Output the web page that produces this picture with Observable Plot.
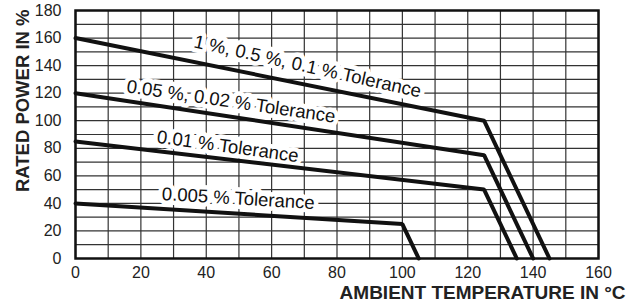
<!DOCTYPE html>
<html>
<head>
<meta charset="utf-8">
<script src="https://cdn.jsdelivr.net/npm/d3@7"></script>
<script src="https://cdn.jsdelivr.net/npm/@observablehq/plot@0.6"></script>
<style>
  html, body { margin: 0; padding: 0; background: #fff; }
  #chart svg { display: block; }
</style>
</head>
<body>
<div id="chart"></div>
<script>
// Series (derating curves)
const seriesNames = ["1 %, 0.5 %, 0.1 % Tolerance", "0.05 %, 0.02 % Tolerance", "0.01 % Tolerance", "0.005 % Tolerance"];
const temperatures = [[0, 125, 145], [0, 125, 140], [0, 125, 135], [0, 100, 105]];
const ratedPower = [[160, 100, 0], [120, 75, 0], [85, 50, 0], [40, 25, 0]];

// Curve label anchors (data units) and tilt
const labelTemp = [71, 47.6, 46.6, 49.8];
const labelPower = [139.3, 113.9, 81.3, 43.5];
const labelAngle = [12.5, 8.3, 7.8, 3.4];

// Axis ticks and titles
const xTicks = [0, 20, 40, 60, 80, 100, 120, 140, 160];
const yTicks = [0, 20, 40, 60, 80, 100, 120, 140, 160, 180];
const xGrid = d3.range(0, 161, 10);
const yGrid = d3.range(0, 181, 10);
const xTitle = "AMBIENT TEMPERATURE IN °C";
const yTitle = "RATED POWER IN %";

const rows = seriesNames.flatMap((s, i) => temperatures[i].map((t, j) => ({series: s, t, p: ratedPower[i][j]})));
const labels = seriesNames.map((s, i) => ({text: s, t: labelTemp[i], p: labelPower[i], a: labelAngle[i]}));

const font = "'Liberation Sans', Arial, Helvetica, sans-serif";

const chart = Plot.plot({
  width: 636,
  height: 302,
  marginLeft: 75,
  marginRight: 38,
  marginTop: 10,
  marginBottom: 44,
  x: {domain: [0, 160]},
  y: {domain: [0, 180]},
  style: {fontFamily: font, fontSize: "16px", color: "#222", background: "#fff", overflow: "visible"},
  marks: [
    Plot.gridX(xGrid, {stroke: "#333", strokeOpacity: 1, strokeWidth: 1.2}),
    Plot.gridY(yGrid, {stroke: "#333", strokeOpacity: 1, strokeWidth: 1.2}),
    Plot.text(labels, {x: "t", y: "p", text: "text", rotate: "a", fontSize: 18.5, fill: "#fff", stroke: "#fff", strokeWidth: 9, strokeLinejoin: "round"}),
    Plot.line(rows, {x: "t", y: "p", z: "series", stroke: "#111", strokeWidth: 4, strokeLinejoin: "miter"}),
    Plot.text(labels, {x: "t", y: "p", text: "text", rotate: "a", fontSize: 18.5, fill: "#111"}),
    Plot.frame({stroke: "#111", strokeWidth: 2.5}),
    Plot.axisX(xTicks, {tickSize: 0, tickPadding: 8, label: null, fontSize: 16, fill: "#222"}),
    Plot.axisY(yTicks, {tickSize: 0, tickPadding: 14, label: null, fontSize: 16, fill: "#222"}),
    Plot.text([xTitle], {text: d => d, frameAnchor: "bottom-right", lineAnchor: "middle", textAnchor: "end", dx: 27, dy: 34.5, fontWeight: "bold", fontSize: 19, fill: "#222"}),
    Plot.text([yTitle], {text: d => d, frameAnchor: "top-left", rotate: -90, textAnchor: "end", dx: -60, dy: -1, fontWeight: "bold", fontSize: 18.5, fill: "#222"})
  ]
});
document.getElementById("chart").append(chart);
</script>
</body>
</html>
